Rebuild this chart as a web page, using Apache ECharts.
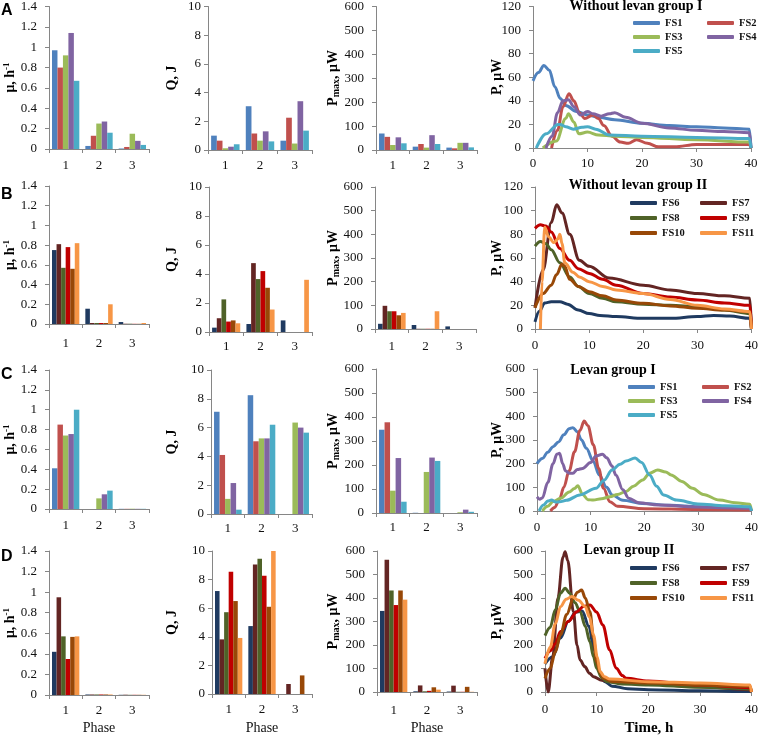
<!DOCTYPE html>
<html><head><meta charset="utf-8">
<script src="https://cdn.jsdelivr.net/npm/echarts@6/dist/echarts.min.js"></script>
<style>html,body{margin:0;padding:0;background:#fff}#c{width:761px;height:735px}</style>
</head><body><div id="c"></div>
<script>
// ---------------- DATA ----------------
const phases = ['1', '2', '3'];
const namesI = ['FS1', 'FS2', 'FS3', 'FS4', 'FS5'];
const namesII = ['FS6', 'FS7', 'FS8', 'FS9', 'FS10', 'FS11'];
const colorsI = ['#4F81BD', '#C0504D', '#9BBB59', '#8064A2', '#4BACC6'];
const colorsII = ['#1F3A60', '#632523', '#4F6228', '#C00000', '#984807', '#F79646'];

const muAxis = [0, 1.4, 0.2];
const qAxis = [0, 10, 2];
const pmAxis = [0, 600, 100];
const pAxisLow = [0, 120, 20];
const pAxisHigh = [0, 600, 100];
const timeAxis = [0, 40, 10];

// Row A: without levan group I (per FS, values for phases 1..3)
const muA = [[0.97, 0.03, 0.005], [0.80, 0.13, 0.02], [0.92, 0.25, 0.15], [1.14, 0.27, 0.08], [0.67, 0.16, 0.04]];
const qA = [[1.0, 3.05, 0.65], [0.65, 1.15, 2.25], [0.12, 0.65, 0.45], [0.23, 1.3, 3.4], [0.4, 0.6, 1.35]];
const pmA = [[69, 14, 10], [55, 25, 7], [21, 10, 30], [53, 62, 30], [28, 25, 11]];
// Row B: without levan group II
const muB = [[0.75, 0.155, 0.02], [0.81, 0.01, 0.003], [0.57, 0.01, 0.003], [0.78, 0.01, 0.002], [0.56, 0.01, 0.002], [0.82, 0.2, 0.01]];
const qB = [[0.3, 0.55, 0.8], [0.95, 4.75, 0], [2.25, 3.65, 0], [0.72, 4.2, 0], [0.8, 3.05, 0], [0.6, 1.55, 3.6]];
const pmB = [[22, 17, 11], [98, 1, 0], [75, 1, 0], [75, 1, 0], [58, 1, 0], [68, 75, 0]];
// Row C: levan group I
const muC = [[0.41, 0, 0.002], [0.85, 0, 0.002], [0.74, 0.107, 0.003], [0.755, 0.148, 0.002], [1.0, 0.185, 0.002]];
const qC = [[7.1, 8.25, 0], [4.1, 5.05, 0], [1.05, 5.25, 6.35], [2.15, 5.25, 6.0], [0.3, 6.2, 5.65]];
const pmC = [[347, 1, 0], [378, 0, 0], [93, 171, 3], [229, 231, 14], [47, 217, 5]];
// Row D: levan group II
const muD = [[0.42, 0.005, 0.002], [0.95, 0.005, 0.003], [0.57, 0.005, 0.002], [0.35, 0.005, 0.002], [0.565, 0.005, 0.002], [0.57, 0.005, 0.002]];
const qD = [[7.2, 4.75, 0], [3.82, 9.05, 0.7], [5.72, 9.45, 0], [8.55, 8.27, 0], [6.5, 6.1, 1.3], [3.92, 10, 0]];
const pmD = [[345, 3, 2], [563, 28, 27], [432, 3, 1], [370, 5, 1], [432, 20, 22], [393, 10, 1]];

// Power curves [time h, P µW]
const lineA = [
  [[0,57],[1,64],[2,70],[3,66],[4,52],[5,42],[6,36],[8,31],[10,28],[12,26],[15,24],[20,21],[25,19],[30,18],[35,17],[39.7,16],[40,0]],
  [[3.4,0],[4.5,15],[5.5,35],[6.6,46],[7.5,40],[8.5,30],[9.5,25],[11,28],[12,25],[13,19],[14.5,10],[16,5],[17.5,4],[19,7],[21,4],[23,1],[26,1],[30,3],[35,3],[39.7,3],[40,0]],
  [[1.8,0],[4.3,6],[6,25],[6.5,29],[7.5,22],[8.4,12],[10,13.5],[12,11],[15,10],[20,9],[30,7],[39.7,5],[40,0]],
  [[2.4,0],[3.5,10],[4.5,30],[5.5,40],[6.5,41],[7.5,35],[8.7,28],[10,31],[11,29],[12.5,27],[14,29],[15,30],[17,26],[20,21],[25,17],[30,15],[35,14],[39.7,13],[40,0]],
  [[0.6,0],[2.4,12],[4.6,20],[5,20],[6,18],[7.4,16],[9,17.5],[10,18],[11.5,16],[14,11],[20,10],[30,9],[39.7,8],[40,0]]
];
const lineB = [
  [[0,6],[0.8,15],[1.8,22],[3,23],[4.6,23],[6,21],[8,16],[10,13],[12,11.5],[15,10.5],[20,9],[25,9],[30,10.5],[33,11.5],[36,11],[39.7,9],[40,0]],
  [[0,18],[1.5,50],[3,90],[4,105],[5,98],[6.4,80],[8.2,58],[10,53],[13.7,43],[20,37],[25,33],[30,30],[35,28],[39.7,26],[40,0]],
  [[0,70],[1,74],[2,72],[3,67],[4.6,56],[6.4,44],[8,36],[10,30],[12.5,26],[15,23],[20,21],[25,20],[30,19],[35,16],[39.7,13],[40,0]],
  [[0,85],[1,88],[2,87],[3,82],[4.6,68],[6.4,58],[8,51],[10,47],[12.5,42],[15,37],[20,30],[25,27],[30,24.5],[35,22],[39.7,20],[40,0]],
  [[0,18],[1.5,30],[3,37],[4,46],[5,55],[5.5,53],[6.4,42],[8,36],[10,31.5],[12.5,28],[15,24.5],[20,21.7],[25,19.5],[30,17.5],[35,16],[39.7,14.6],[40,0]],
  [[1,0],[1.3,40],[1.8,86],[2.5,78],[3.5,73],[4.2,76],[4.6,80],[5,72],[5.5,56],[7,48],[8.2,44],[10,40],[12.5,36],[15,33],[20,30],[25,25],[30,20],[35,17],[39.7,14.6],[40,0]]
];
const lineC = [
  [[0,200],[1,222],[2,248],[3,272],[4,292],[5,322],[6,348],[6.7,352],[7.5,335],[8.3,300],[9.2,265],[10.5,210],[11.6,152],[13,100],[14,68],[16,45],[19.6,32],[25,24],[30,18],[35,14],[39.7,11],[40,0]],
  [[2.5,0],[3.3,15],[4.2,50],[5,100],[6,170],[7,250],[8,340],[8.8,380],[9.5,360],[10.5,280],[11.5,180],[12.4,96],[13.6,39],[15,20],[20,10],[30,6],[39.7,4],[40,0]],
  [[1,0],[2,20],[3,40],[4.4,54],[6,80],[7,95],[7.6,107],[8.5,70],[9.5,48],[10.5,46],[12,52],[13.6,60],[15,70],[16.6,82],[18,105],[19.7,131],[21,160],[22.5,173],[24,165],[25,152],[27,125],[29,96],[31,70],[34,46],[37,35],[39.7,28],[40,0]],
  [[0,60],[0.5,50],[1,55],[2,120],[3,200],[3.7,240],[4.2,244],[4.8,200],[5.3,170],[6,160],[6.7,159],[7.5,175],[8.5,180],[10,205],[11,232],[12.2,240],[13,225],[14,190],[14.7,152],[16,90],[17.1,54],[19,35],[22.6,25],[30,17],[35,14],[39.7,12],[40,0]],
  [[0.4,0],[1.2,25],[2,42],[2.7,46],[3.5,38],[4.2,39],[5.5,45],[8,68],[11,96],[12.5,130],[14,173],[15.5,198],[16.6,211],[18.3,224],[19.5,205],[21,152],[22.3,105],[23.6,68],[26,46],[30,30],[35,22],[39.7,18],[40,0]]
];
const lineD = [
  [[0,120],[1.5,150],[3,230],[4.5,300],[6,340],[7.2,345],[8.5,280],[9.5,180],[10.5,90],[11.5,45],[13,25],[16,14],[20,10],[30,5],[39.7,2],[40,0]],
  [[0,100],[0.6,0],[1.5,150],[2.5,400],[3.5,575],[3.9,597],[4.4,560],[5.5,342],[6.2,200],[6.8,136],[7.7,108],[8.6,80],[9.4,65],[11,50],[12.6,44],[16,38],[20,34],[30,22],[39.7,10],[40,0]],
  [[0,240],[1,275],[2,350],[3,420],[3.9,441],[4.8,420],[5.8,380],[6.8,342],[7.8,280],[8.7,214],[9.4,150],[10,101],[11,60],[12,44],[15,34],[20,30],[30,20],[39.7,13],[40,0]],
  [[0,143],[1,175],[2,205],[3,257],[4.5,300],[6.2,342],[7.5,365],[8.7,370],[10,340],[11.2,285],[12.5,180],[13.8,101],[15,70],[15.7,58],[20,47],[30,30],[39.7,18],[40,0]],
  [[0,58],[1,100],[2,170],[3,243],[4.2,330],[5.5,399],[6.3,425],[7.1,434],[7.8,400],[8.7,342],[9.4,230],[10,129],[10.7,80],[11.3,58],[13,45],[20,38],[30,30],[39.7,24],[40,0]],
  [[0,120],[1,190],[2,290],[3,363],[4.1,395],[5.2,406],[6.5,390],[7.8,363],[8.6,320],[9.4,243],[10.1,150],[10.7,86],[11.5,65],[12.6,55],[20,44],[30,38],[39.7,30],[40,0]]
];

// ---------------- LAYOUT ----------------
// [left, top, right, bottom] of each plot area
const rows = [
  {mu:[49,6,149,149], q:[208,6,312,150], pm:[376,6,477,150], ln:[533,6,751,148], mx:[10,9,9,9],
   names:namesI, colors:colorsI, mu_d:muA, q_d:qA, pm_d:pmA, ln_d:lineA, pAx:pAxisLow, letter:'A', ly:11,
   title:'Without levan group I', tx:636, ty:6, leg:[633,707,16], legGap:0},
  {mu:[49,186,149,324], q:[209,187,312,332], pm:[375,187,476,329], ln:[535,187,753,329], mx:[13,8,11,10],
   names:namesII, colors:colorsII, mu_d:muB, q_d:qB, pm_d:pmB, ln_d:lineB, pAx:pAxisLow, letter:'B', ly:195,
   title:'Without levan group II', tx:638, ty:185, leg:[630,700,196], legGap:1},
  {mu:[49,370,149,509], q:[211,370,312,514], pm:[376,369,477,513], ln:[537,369,754,511], mx:[10,8,8,10],
   names:namesI, colors:colorsI, mu_d:muC, q_d:qC, pm_d:pmC, ln_d:lineC, pAx:pAxisHigh, letter:'C', ly:375,
   title:'Levan group I', tx:613, ty:370, leg:[628,702,380], legGap:0},
  {mu:[49,551,149,695], q:[212,551,312,694], pm:[377,551,477,692], ln:[545,551,753,692], mx:[9,9,12,11],
   names:namesII, colors:colorsII, mu_d:muD, q_d:qD, pm_d:pmD, ln_d:lineD, pAx:pAxisHigh, letter:'D', ly:557,
   title:'Levan group II', tx:629, ty:550, leg:[630,700,561], legGap:1}
];

const SERIF = 'Liberation Serif';
const AX = '#868686';
const grids = [], xAxes = [], yAxes = [], series = [], legends = [], graphics = [];

function baseAxis() {
  return {
    axisLine: {show: true, lineStyle: {color: AX, width: 1}},
    axisTick: {show: true, length: 4, lineStyle: {color: AX}},
    splitLine: {show: false},
    axisLabel: {color: '#111', fontFamily: SERIF, fontSize: 13}
  };
}
function addGrid(box) {
  grids.push({left: box[0], top: box[1], width: box[2] - box[0], height: box[3] - box[1]});
  return grids.length - 1;
}
function yAx(gi, rng, margin) {
  const a = baseAxis();
  Object.assign(a, {type: 'value', gridIndex: gi, min: rng[0], max: rng[1], interval: rng[2]});
  a.axisLabel.margin = margin;
  yAxes.push(a);
}
function xCat(gi, margin) {
  const a = baseAxis();
  Object.assign(a, {type: 'category', gridIndex: gi, data: phases, boundaryGap: true});
  a.axisTick.alignWithLabel = false;
  a.axisTick.interval = 0;
  a.axisLabel.margin = margin;
  a.axisLabel.interval = 0;
  xAxes.push(a);
}
function xVal(gi, margin) {
  const a = baseAxis();
  Object.assign(a, {type: 'value', gridIndex: gi, min: timeAxis[0], max: timeAxis[1], interval: timeAxis[2]});
  a.axisLabel.margin = margin;
  xAxes.push(a);
}
function barPanel(box, rng, data, row, mx, my) {
  const gi = addGrid(box);
  xCat(gi, mx); yAx(gi, rng, my);
  data.forEach((vals, k) => {
    series.push({type: 'bar', name: row.names[k], xAxisIndex: gi, yAxisIndex: gi, data: vals,
      barGap: '0%', barCategoryGap: '18%', itemStyle: {color: row.colors[k]}, silent: true});
  });
}

rows.forEach(row => {
  barPanel(row.mu, muAxis, row.mu_d, row, row.mx[0], 12);
  barPanel(row.q, qAxis, row.q_d, row, row.mx[1], 7);
  barPanel(row.pm, pmAxis, row.pm_d, row, row.mx[2], 12);
  const gi = addGrid(row.ln);
  xVal(gi, row.mx[3]); yAx(gi, row.pAx, 12);
  row.ln_d.forEach((pts, k) => {
    series.push({type: 'line', name: row.names[k], xAxisIndex: gi, yAxisIndex: gi, data: pts,
      showSymbol: false, smooth: 0.35, smoothMonotone: 'x',
      lineStyle: {color: row.colors[k], width: 3}, itemStyle: {color: row.colors[k]}, silent: true});
  });
  // legends: two columns
  const half = Math.ceil(row.names.length / 2);
  const col1 = row.names.filter((n, i) => i % 2 === 0);
  const col2 = row.names.filter((n, i) => i % 2 === 1);
  [[col1, row.leg[0]], [col2, row.leg[1]]].forEach(([names, lx]) => {
    legends.push({orient: 'vertical', left: lx, top: row.leg[2], padding: 0, itemGap: row.legGap,
      itemWidth: 27, itemHeight: 4, icon: 'roundRect', selectedMode: false,
      data: names.map(n => ({name: n, icon: 'roundRect'})),
      textStyle: {fontFamily: SERIF, fontWeight: 'bold', fontSize: 10.5, color: '#111', lineHeight: 14}});
  });
  // panel letter
  graphics.push({type: 'text', left: 1, top: row.ly - 8,
    style: {text: row.letter, font: 'bold 16px "Liberation Sans"', fill: '#000'}});
  // title
  graphics.push({type: 'text', x: row.tx, y: row.ty,
    style: {text: row.title, font: 'bold 14px "Liberation Serif"', fill: '#000', align: 'center', verticalAlign: 'middle'}});
  // y axis names
  const rich = {
    b: {fontFamily: SERIF, fontWeight: 'bold', fontSize: 14, lineHeight: 16, fill: '#000'},
    sup: {fontFamily: SERIF, fontWeight: 'bold', fontSize: 9, lineHeight: 9, verticalAlign: 'top', fill: '#000'},
    sub: {fontFamily: SERIF, fontWeight: 'bold', fontSize: 10, lineHeight: 10, verticalAlign: 'bottom', fill: '#000'}
  };
  const yName = (x, box, text) => graphics.push({type: 'text', x: x, y: (box[1] + box[3]) / 2, rotation: Math.PI / 2,
    style: {text: text, rich: rich, align: 'center', verticalAlign: 'middle'}});
  yName(10, row.mu, '{b|μ, h}{sup|-1}');
  yName(172, row.q, '{b|Q, J}');
  yName(333, row.pm, '{b|P}{sub|max}{b|, μW}');
  yName(497, row.ln, '{b|P, μW}');
});

// bottom axis titles
const bottomRow = rows[3];
[[bottomRow.mu], [bottomRow.q], [bottomRow.pm]].forEach(([b]) => {
  graphics.push({type: 'text', x: (b[0] + b[2]) / 2, y: 728,
    style: {text: 'Phase', font: '14px "Liberation Serif"', fill: '#111', align: 'center', verticalAlign: 'middle'}});
});
graphics.push({type: 'text', x: (bottomRow.ln[0] + bottomRow.ln[2]) / 2, y: 728,
  style: {text: 'Time, h', font: 'bold 15px "Liberation Serif"', fill: '#000', align: 'center', verticalAlign: 'middle'}});

const chart = echarts.init(document.getElementById('c'), null, {renderer: 'canvas'});
chart.setOption({
  animation: false,
  backgroundColor: '#fff',
  textStyle: {fontFamily: SERIF},
  grid: grids, xAxis: xAxes, yAxis: yAxes, series: series, legend: legends,
  graphic: {elements: graphics}
});
</script></body></html>
